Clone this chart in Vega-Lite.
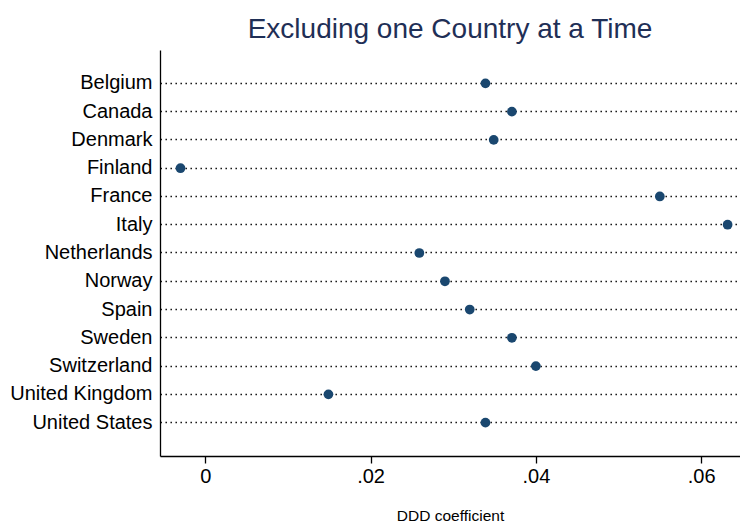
{
  "$schema": "https://vega.github.io/schema/vega-lite/v6.json",
  "autosize": "none",
  "width": 580,
  "height": 406,
  "padding": {"left": 160, "top": 50, "right": 0, "bottom": 67},
  "background": "white",
  "title": {
    "text": "Excluding one Country at a Time",
    "font": "Liberation Sans",
    "fontSize": 28,
    "fontWeight": "normal",
    "color": "#1f2f56",
    "anchor": "middle",
    "offset": 6
  },
  "data": {
    "values": [
      {"country": "Belgium", "coef": 0.0339},
      {"country": "Canada", "coef": 0.0371},
      {"country": "Denmark", "coef": 0.0349},
      {"country": "Finland", "coef": -0.0030},
      {"country": "France", "coef": 0.0550},
      {"country": "Italy", "coef": 0.0632},
      {"country": "Netherlands", "coef": 0.0259},
      {"country": "Norway", "coef": 0.0290},
      {"country": "Spain", "coef": 0.0320},
      {"country": "Sweden", "coef": 0.0371},
      {"country": "Switzerland", "coef": 0.0400},
      {"country": "United Kingdom", "coef": 0.0149},
      {"country": "United States", "coef": 0.0339}
    ]
  },
  "mark": {"type": "circle", "size": 95, "opacity": 1, "color": "#1a476f"},
  "encoding": {
    "y": {
      "field": "country",
      "type": "nominal",
      "sort": null,
      "scale": {"type": "band", "paddingInner": 0, "paddingOuter": 0.68, "round": false},
      "axis": {
        "title": null,
        "ticks": false,
        "bandPosition": 0.5,
        "labelFont": "Liberation Sans",
        "labelFontSize": 20,
        "labelColor": "#000000",
        "labelPadding": 8,
        "domainColor": "#000000",
        "domainWidth": 1.3,
        "grid": true,
        "gridColor": "#000000",
        "gridWidth": 1.4,
        "gridDash": [1.4, 3.6]
      }
    },
    "x": {
      "field": "coef",
      "type": "quantitative",
      "scale": {"domain": [-0.00548, 0.0647], "nice": false, "zero": false},
      "axis": {
        "title": "DDD coefficient",
        "titleFont": "Liberation Sans",
        "titleFontSize": 15.5,
        "titleFontWeight": "normal",
        "titleColor": "#000000",
        "titlePadding": 22,
        "values": [0, 0.02, 0.04, 0.06],
        "labelExpr": "datum.value == 0 ? '0' : replace(format(datum.value, '.2f'), '0.', '.')",
        "labelFont": "Liberation Sans",
        "labelFontSize": 20,
        "labelColor": "#000000",
        "labelPadding": 3,
        "tickSize": 7,
        "tickColor": "#000000",
        "tickWidth": 1.3,
        "domainColor": "#000000",
        "domainWidth": 1.3,
        "grid": false
      }
    }
  },
  "config": {"view": {"stroke": null}}
}
